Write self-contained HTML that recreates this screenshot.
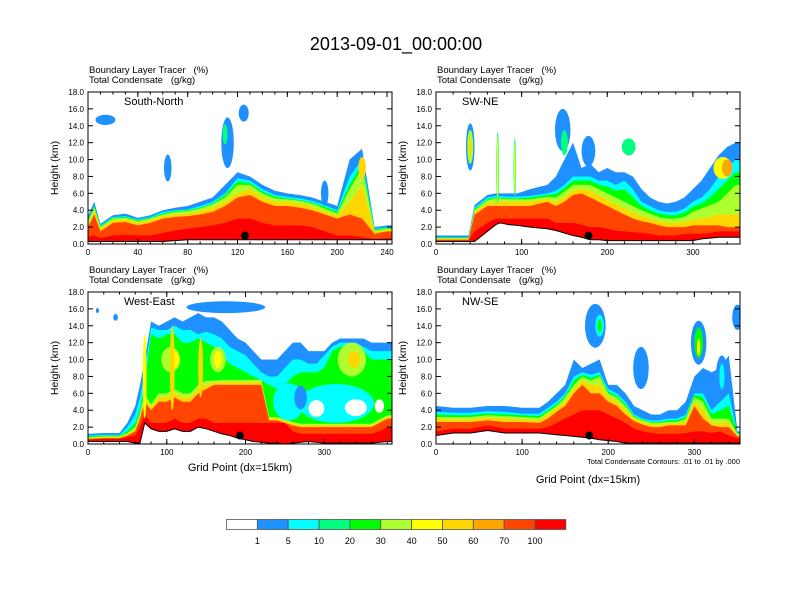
<!DOCTYPE html>
<html><head><meta charset="utf-8"><style>
html,body{margin:0;padding:0;background:#fff;}
svg{display:block;font-family:"Liberation Sans",sans-serif;}
</style></head><body>
<svg id="c" width="792" height="612" viewBox="0 0 792 612">
<text x="396" y="50" font-size="18" text-anchor="middle">2013-09-01_00:00:00</text>
</svg>
<script>
const levelLabels=["1","5","10","20","30","40","50","60","70","100"];
const levelColors=["#ffffff","#1e90ff","#00ffff","#00ff7f","#00ff00","#adff2f","#ffff00","#ffd700","#ffa500","#ff4500","#ff0000"];
const layerLevels=[1,2,4,5,7,9,10];

// Panel 1: South-North
const p1X=[0,5,10,20,30,40,50,60,70,80,90,100,110,120,130,140,150,160,170,180,190,200,210,220,230,240,244];
const p1Ground=[0.3,0.3,0.3,0.3,0.3,0.3,0.3,0.3,0.4,0.5,0.5,0.5,0.5,0.5,0.5,0.5,0.5,0.5,0.5,0.5,0.5,0.5,0.5,0.5,0.5,0.5,0.5];
const p1L1=[3.3,5,2.4,3.4,3.6,3.1,3.4,4,4.3,4.5,5,5.5,7,8.5,8,7,6.3,6,5.8,5.5,5,4.5,10,11.3,2,2.2,2.2];
const p1L2=[2.9,4.6,2.2,3.2,3.3,2.9,3.2,3.8,4,4.1,4.5,5,6,7.8,7.5,6.5,5.8,5.6,5.4,5.1,4.6,4,8,10,1.8,2,2];
const p1L4=[2.8,4.5,2.1,3.1,3.2,2.8,3.1,3.6,3.9,4,4.3,4.8,5.8,7.4,7.2,6.2,5.6,5.4,5.2,4.9,4.4,3.8,7,9.5,1.7,1.9,1.9];
const p1L5=[2.6,4.3,2,3,3.1,2.7,3,3.5,3.8,3.9,4.2,4.7,5.5,7,7,6,5.4,5.3,5.1,4.8,4.2,3.6,6.5,9,1.6,1.8,1.8];
const p1L7=[2.3,4,1.8,2.8,2.9,2.5,2.8,3.3,3.5,3.6,3.9,4.3,5,6,6.5,5.5,5,5,4.8,4.4,3.8,3.3,5,7,1.4,1.7,1.7];
const p1L9=[2,3.5,1.5,2.5,2.6,2.2,2.5,3,3.2,3.3,3.5,3.8,4.5,5.5,5.8,5,4.5,4.5,4.3,4,3.5,3,3.5,3,1.2,1.5,1.5];
const p1L10=[0.8,1,0.7,1,1.1,1,1,1.3,1.6,1.8,2,2.2,2.5,3,3,2.5,2.2,2.2,2.2,2,1.5,1,1,0.8,0.6,0.7,0.7];
const p1Blobs=[[14,14.7,8,0.6,1],[64,9,3,1.6,1],[112,12,5,3,1],[110,13,2,1.2,3],[125,15.5,4,1,1],[190,6,3,1.5,1],[220,9,3,1.3,7]];
const p1Dot=[126,1];

// Panel 2: SW-NE
const p2X=[0,15,30,38,45,60,70,75,85,95,110,130,140,150,160,170,180,190,200,210,220,230,240,250,260,270,280,290,300,310,320,330,340,350,355];
const p2Ground=[0.3,0.3,0.3,0.3,0.3,1.5,2.3,2.5,2.3,2.2,2,1.8,1.6,1.3,1,0.8,0.5,0.5,0.4,0.4,0.4,0.4,0.4,0.4,0.4,0.4,0.4,0.4,0.4,0.6,0.7,0.8,0.8,0.8,0.8];
const p2L1=[1,1,1,1,4.6,5.8,6,6,6,6,6.5,7,8,10,12,9,9.5,8.5,9,8.5,8.5,8,6.5,5.5,5,4.8,5,5.5,6.5,7.5,9,10.5,11.5,12,12];
const p2L2=[0.8,0.8,0.8,0.8,4.3,5.5,5.7,5.7,5.6,5.6,5.7,6,6.3,7,8,8,8,7.5,7.5,7,7.5,6.5,5,4.5,4,3.8,3.8,4.2,5,5.5,6.5,8,9,10,10];
const p2L4=[0.75,0.75,0.75,0.75,4.1,5.3,5.5,5.5,5.4,5.4,5.5,5.8,5.9,6.6,7.5,7.5,7.5,7,6.8,6.3,6.5,5.5,4.5,4,3.6,3.4,3.4,3.7,4.4,4.8,5.5,6.5,7.5,8.5,8.5];
const p2L5=[0.7,0.7,0.7,0.7,4,5.2,5.4,5.4,5.3,5.3,5.3,5.6,5.5,6.2,7,7,7,6.5,6,5.5,5,4.5,4,3.6,3.2,3,3,3.2,3.8,4.2,4.6,5,6,7,7];
const p2L7=[0.6,0.6,0.6,0.6,3.8,4.8,5,5,5,5,5,5.3,5,5.5,6.3,6.5,6.3,5.8,5.2,4.7,4.2,3.7,3.3,3,2.7,2.5,2.5,2.6,2.9,3,3.2,3.5,3.5,3.5,3.5];
const p2L9=[0.5,0.5,0.5,0.5,3.5,4.5,4.5,4.5,4.5,4.5,4.5,5,4.5,5,5.8,6,5.5,5,4.5,4,3.5,3,2.7,2.5,2.2,2,2,2,2.2,2.2,2.2,2.2,2,2,2];
const p2L10=[0.4,0.4,0.4,0.4,1.5,2.5,3,3,3,3,3,3,2.5,2.5,2.5,2.3,2,2,1.8,1.6,1.5,1.4,1.3,1.2,1,1,1,1.2,1.2,1.2,1.3,1.5,1.5,1.5,1.5];
const p2Blobs=[[40,11.5,5,2.8,1],[40,11.5,3.5,2,5],[40,11.5,1.8,1,7],[72,9,1.5,4.3,3],[72,9,0.8,3.8,6],[92,9,1.5,3.5,3],[92,9,0.8,3,6],[148,13.5,9,2.5,1],[150,12,4,1.5,3],[178,11,8,1.8,1],[225,11.5,8,1,3],[335,9,11,1.3,6],[340,9,6,1,8]];
const p2Dot=[178,1];

// Panel 3: West-East
const p3X=[0,20,40,50,60,66,72,80,90,100,110,120,130,140,150,160,170,180,190,200,210,220,230,240,250,260,270,280,290,300,310,320,330,340,350,360,370,380,386];
const p3Ground=[0.3,0.3,0.3,0.3,0.1,0.1,2.5,1.8,1.5,1.5,1.8,1.5,1.5,2,1.8,1.5,1.2,1,0.7,0.5,0.3,0.2,0.1,0.1,0,0.1,0.2,0.3,0.2,0.1,0.1,0.1,0.1,0.1,0.1,0.1,0.2,0.3,0.3];
const p3L1=[1.2,1.3,1.3,2.5,4.5,7,10,14.5,14,14.5,15,14.5,15,15.5,15,15,14.5,13.5,12.5,12,11,10,10,10,11,12,12,11,11,11,12,12.5,12.5,12.5,12.5,12,12,12,12];
const p3L2=[1,1.1,1.1,2,3.5,5.5,8.5,13.8,13.5,13.5,14,13.5,13.5,13,13.3,13,12.5,11.5,11,10.5,9.5,8.5,8,8,9,10,10,9.5,9.5,10.5,11.5,12,12,12,11.5,11,11,11,11];
const p3L4=[0.9,1,1,1.5,2.5,4,7,13,12.5,13,13,12,12,12.5,12,11.5,10.5,9.5,9,8.5,8,7.5,7,6.5,7,8,8.5,8.5,8.5,9,11,11.5,11.5,11.5,11,10,10,10,10];
const p3L5=[0.8,0.9,0.9,1.3,2,3.6,6,4.7,6,6,6.5,6,6,7,7.5,7.5,7.6,7.6,7.6,7.6,7.6,7.6,3.2,3.2,2.9,2.6,2.4,2.4,2.4,2.4,2.4,2.4,2.4,2.4,2.4,2.4,2.9,3.4,3.4];
const p3L7=[0.7,0.8,0.8,1.1,1.8,3.3,5.5,4.3,5.5,5.5,6,5.5,5.5,6.5,7,7.3,7.3,7.3,7.3,7.3,7.3,7.3,3,3,2.7,2.4,2.2,2.2,2.2,2.2,2.2,2.2,2.2,2.2,2.2,2.2,2.7,3.2,3.2];
const p3L9=[0.6,0.7,0.7,1,1.5,3,5,4,5,5,5.5,5,5,6,6.5,7,7,7,7,7,7,7,2.8,2.8,2.5,2.2,2,2,2,2,2,2,2,2,2,2,2.5,3,3];
const p3L10=[0.5,0.6,0.6,0.8,1,2,3.5,2.5,2.5,2.5,3,2.5,2.5,3,3,2.5,2.5,2.5,2.5,2.5,2.5,2.5,2.5,2.5,2.5,1.5,1.2,1.2,1.2,1.2,1.2,1.2,1.2,1.2,1.2,1.2,1.5,2,2];
const p3Blobs=[[255,5,20,2.2,2],[315,4.8,48,2.3,2],[270,5.5,8,1.4,1],[290,4.2,10,1,0],[340,4.3,14,1,0],[370,4.5,6,0.8,0],[175,16.2,50,0.7,1],[105,10,12,1.5,5],[110,10,6,1,6],[165,10,10,1.5,5],[165,10,5,1,6],[335,10,18,2,5],[338,10,8,1,7],[72,8,2.5,5,6],[107,9,3,5,7],[143,9,3,3.5,7],[12,15.8,2,0.3,1],[35,15,3,0.4,1]];
const p3Dot=[193,1];

// Panel 4: NW-SE
const p4X=[0,20,40,60,80,100,120,130,140,150,160,170,180,190,200,210,220,230,240,250,260,270,280,290,300,310,320,330,340,350,353];
const p4Ground=[1,1.3,1.3,1.6,1.3,1.3,1.3,1.2,1.1,1,0.9,0.8,0.7,0.5,0.4,0.3,0.1,0.1,0.1,0.1,0.1,0.1,0.1,0.1,0.1,0.1,0.1,0.1,0.1,0.1,0.1];
const p4L1=[4.5,4.3,4.3,4.5,4.5,4.3,4.3,5,6,7,10,9,9.5,10,7,7,6,4.5,4,3.5,3.5,4,4,5,8,9,8.5,9,10.5,1.5,1.5];
const p4L2=[3.8,3.7,3.7,3.9,3.8,3.6,3.6,4.3,5,6,8,8.5,8.2,8.5,6.5,6,5,3.5,3,2.8,2.8,3,3,3.5,6,6,4,5,6,1.3,1.3];
const p4L4=[3.5,3.4,3.4,3.6,3.5,3.4,3.3,4,4.7,5.7,7.5,8.2,7.8,8.2,6.2,5.7,4.7,3.3,2.9,2.6,2.6,2.8,2.8,3.2,5.8,5.5,3.5,4,4.5,1.25,1.25];
const p4L5=[3.2,3.2,3.2,3.4,3.3,3.2,3.1,3.8,4.5,5.5,7,8,7.5,8,6,5.5,4.5,3.2,2.8,2.5,2.5,2.6,2.6,3,5.5,5,3,3,3,1.2,1.2];
const p4L7=[3,2.9,2.9,3.1,3,2.9,2.8,3.5,4.2,5,6.5,7.5,7,7,5.5,5,4,3,2.5,2.3,2.3,2.4,2.4,2.6,5,4,2.5,2.5,2.5,1,1];
const p4L9=[2.6,2.6,2.6,2.8,2.6,2.6,2.5,3,3.8,4.5,6,7,6,6,5,4.5,3.5,2.7,2.3,2,2,2.2,2.2,2.2,4.5,3,2.2,2,2,0.9,0.9];
const p4L10=[1.5,1.8,1.8,2.2,1.8,1.8,1.8,2,2.5,3,3.5,4,4,4,3.5,3,2.5,1.8,1.5,1.3,1.2,1.2,1.2,1.3,1.5,1.5,1.3,1.5,1,0.7,0.7];
const p4Blobs=[[185,14,12,2.6,1],[190,14,5,1.3,2],[190,14,2.5,0.8,4],[238,9,9,2.5,1],[305,12,9,2.6,1],[305,12,5,1.8,4],[305,11.5,2,1,6],[332,8,7,2.5,1],[332,8,3,1.5,2],[350,15,6,1.5,1]];
const p4Dot=[178,1];

const xTicks1=[0,40,80,120,160,200,240];
const xTicks2=[0,100,200,300];
const yTicks=[0,2,4,6,8,10,12,14,16,18];

const svg=document.getElementById('c');
const NS="http://www.w3.org/2000/svg";
function mk(tag,attrs,parent){const e=document.createElementNS(NS,tag);for(const k in attrs)e.setAttribute(k,attrs[k]);(parent||svg).appendChild(e);return e;}

const panels=[
 {name:"south-north",label:"South-North",x0:88,y0:92,w:304,h:152,xmax:244,xs:p1X,g:p1Ground,L:[p1L1,p1L2,p1L4,p1L5,p1L7,p1L9,p1L10],blobs:p1Blobs,dot:p1Dot,ticks:xTicks1,minor:10,xlab:false},
 {name:"sw-ne",label:"SW-NE",x0:436,y0:92,w:304,h:152,xmax:355,xs:p2X,g:p2Ground,L:[p2L1,p2L2,p2L4,p2L5,p2L7,p2L9,p2L10],blobs:p2Blobs,dot:p2Dot,ticks:xTicks2,minor:20,xlab:false},
 {name:"west-east",label:"West-East",x0:88,y0:292,w:304,h:152,xmax:386,xs:p3X,g:p3Ground,L:[p3L1,p3L2,p3L4,p3L5,p3L7,p3L9,p3L10],blobs:p3Blobs,dot:p3Dot,ticks:xTicks2,minor:20,xlab:true,xlabY:471},
 {name:"nw-se",label:"NW-SE",x0:436,y0:292,w:304,h:152,xmax:353,xs:p4X,g:p4Ground,L:[p4L1,p4L2,p4L4,p4L5,p4L7,p4L9,p4L10],blobs:p4Blobs,dot:p4Dot,ticks:xTicks2,minor:20,xlab:true,xlabY:483,info:true}
];

panels.forEach(p=>{
 const G=mk('g',{});
 
 
 const sx=v=>p.x0+v/p.xmax*p.w;
 const sy=v=>p.y0+p.h-v/18*p.h;
 const cid='clip-'+p.name;
 const cp=mk('clipPath',{id:cid},G);mk('rect',{x:p.x0,y:p.y0,width:p.w,height:p.h},cp);
 const D=mk('g',{'clip-path':'url(#'+cid+')'},G);
 p.L.forEach((arr,li)=>{
  let pts=p.xs.map((x,i)=>sx(x)+','+sy(arr[i]));
  for(let i=p.xs.length-1;i>=0;i--)pts.push(sx(p.xs[i])+','+sy(p.g[i]));
  const poly=mk('polygon',{points:pts.join(' '),fill:levelColors[layerLevels[li]]},D);
  
  
 });
 p.blobs.forEach(b=>{
  const e=mk('ellipse',{cx:sx(b[0]),cy:sy(b[1]),rx:b[2]/p.xmax*p.w,ry:b[3]/18*p.h,fill:levelColors[b[4]]},D);
  
  
 });
 let gp=p.xs.map((x,i)=>sx(x)+','+sy(p.g[i]));
 gp.push(sx(p.xmax)+','+(p.y0+p.h));gp.push(sx(0)+','+(p.y0+p.h));
 const gw=mk('polygon',{points:gp.join(' '),fill:'#fff'},D);
 
 
 const gl=mk('polyline',{points:p.xs.map((x,i)=>sx(x)+','+sy(p.g[i])).join(' '),fill:'none',stroke:'#000','stroke-width':1},D);
 
 
 const dt=mk('circle',{cx:sx(p.dot[0]),cy:sy(p.dot[1]),r:4,fill:'#000'},D);
 
 
 const fr=mk('rect',{x:p.x0,y:p.y0,width:p.w,height:p.h,fill:'none',stroke:'#000','stroke-width':1},G);
 
 
 yTicks.forEach(v=>{
  const y=sy(v);
  mk('line',{x1:p.x0,x2:p.x0+5,y1:y,y2:y,stroke:'#000'},G);
  mk('line',{x1:p.x0+p.w,x2:p.x0+p.w-5,y1:y,y2:y,stroke:'#000'},G);
  const t=mk('text',{x:p.x0-4,y:y+3,'font-size':8,'text-anchor':'end'},G);t.textContent=v.toFixed(1);
  
  
 });
 for(let v=0;v<=p.xmax;v+=p.minor){const x=sx(v);mk('line',{x1:x,x2:x,y1:p.y0+p.h,y2:p.y0+p.h-2.5,stroke:'#000'},G);mk('line',{x1:x,x2:x,y1:p.y0,y2:p.y0+2.5,stroke:'#000'},G);}
 p.ticks.forEach(v=>{
  const x=sx(v);
  mk('line',{x1:x,x2:x,y1:p.y0+p.h,y2:p.y0+p.h-5,stroke:'#000'},G);
  mk('line',{x1:x,x2:x,y1:p.y0,y2:p.y0+5,stroke:'#000'},G);
  const t=mk('text',{x:x,y:p.y0+p.h+11,'font-size':8,'text-anchor':'middle'},G);t.textContent=v;
  
  
 });
 const yt=mk('text',{x:0,y:0,'font-size':10.5,'text-anchor':'middle',transform:`translate(${p.x0-30},${p.y0+p.h/2}) rotate(-90)`},G);yt.textContent='Height (km)';
 
 
 const s1=mk('text',{x:p.x0+1,y:p.y0-19,'font-size':9.5},G);s1.textContent='Boundary Layer Tracer   (%)';s1.style.whiteSpace='pre';
 
 
 const s2=mk('text',{x:p.x0+1,y:p.y0-9,'font-size':9.5},G);s2.textContent='Total Condensate   (g/kg)';s2.style.whiteSpace='pre';
 
 
 const pl=mk('text',{x:p.x0+(p.label.length>6?36:26),y:p.y0+13,'font-size':11},G);pl.textContent=p.label;
 
 
 if(p.xlab){const xt=mk('text',{x:p.x0+p.w/2,y:p.xlabY,'font-size':11,'text-anchor':'middle'},G);xt.textContent='Grid Point (dx=15km)';
  
  }
 if(p.info){const it=mk('text',{x:p.x0+p.w,y:p.y0+p.h+20,'font-size':7.5,'text-anchor':'end'},G);it.textContent='Total Condensate Contours: .01 to .01 by .000';
  
  }
});

const CB=mk('g',{});


const cbx=226.5,cbw=30.85,cby=519.5,cbh=10;
levelColors.forEach((c,i)=>{
 const r=mk('rect',{x:cbx+i*cbw,y:cby,width:cbw,height:cbh,fill:c,stroke:'#555','stroke-width':0.8},CB);
 
 
});
levelLabels.forEach((l,i)=>{
 const t=mk('text',{x:cbx+(i+1)*cbw,y:544,'font-size':9,'text-anchor':'middle'},CB);t.textContent=l;
 
 
});
</script>
</body></html>
